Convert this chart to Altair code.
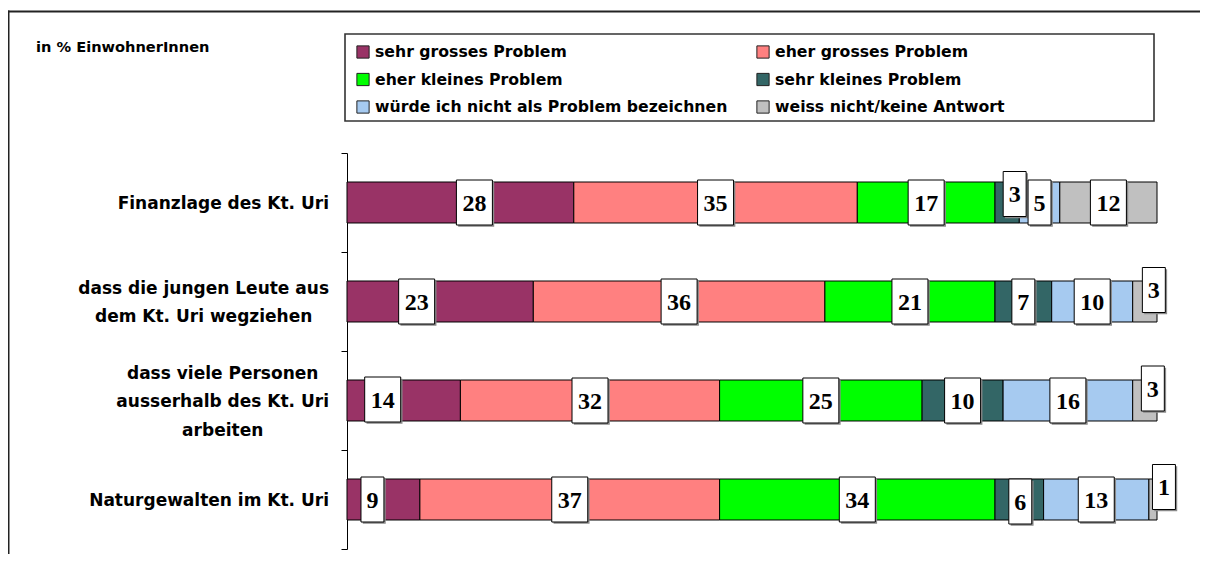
import altair as alt
import pandas as pd

# ---------------- data ----------------
categories = [
    "Finanzlage des Kt. Uri",
    "dass die jungen Leute aus\ndem Kt. Uri wegziehen",
    "dass viele Personen\nausserhalb des Kt. Uri\narbeiten",
    "Naturgewalten im Kt. Uri",
]
series = [
    "sehr grosses Problem",
    "eher grosses Problem",
    "eher kleines Problem",
    "sehr kleines Problem",
    "würde ich nicht als Problem bezeichnen",
    "weiss nicht/keine Antwort",
]
colors = ["#993366", "#FF8080", "#00FF00", "#336666", "#A6CAF0", "#C0C0C0"]

sehr_gross = [28, 23, 14, 9]
eher_gross = [35, 36, 32, 37]
eher_klein = [17, 21, 25, 34]
sehr_klein = [3, 7, 10, 6]
kein_problem = [5, 10, 16, 13]
weiss_nicht = [12, 3, 3, 1]
values = [sehr_gross, eher_gross, eher_klein, sehr_klein, kein_problem, weiss_nicht]

note = "in % EinwohnerInnen"

# ---------------- layout / style ----------------
W, H = 810, 396
PX_X = W / 100.0          # pixels per percent
PX_Y = H / 4.0            # pixels per category band
BAR_HALF = 0.207          # half bar thickness (band units)

# label nudges (pixels) as placed in the original: (row, series index) -> (dx, dy)
label_nudge = {
    (0, 0): (14, 0), (1, 0): (-23.5, 0), (2, 0): (-21, -1), (3, 0): (-11, 0),
    (0, 3): (7.5, -8.5), (1, 5): (9, -11.5), (2, 5): (8, -12), (3, 5): (11, -12.5),
    (3, 3): (1, 2),
}

BOX2 = "M-0.8,-1H0.8V1H-0.8Z"
BOX1 = "M-0.51,-1H0.51V1H-0.51Z"
SH2 = "M-0.72,-0.92H0.88V1.08H-0.72Z"
SH1 = "M-0.43,-0.92H0.59V1.08H-0.43Z"

rows = []
for r, cat in enumerate(categories):
    acc = 0
    for s, name in enumerate(series):
        v = values[s][r]
        dx, dy = label_nudge.get((r, s), (0, 0))
        rows.append(dict(
            row=r, series=name, value=v, start=acc, end=acc + v,
            mid=acc + v / 2 + dx / PX_X,
            ymid=r + 0.5 + dy / PX_Y,
            y0=r + 0.5 - BAR_HALF, y1=r + 0.5 + BAR_HALF,
            box=BOX2 if v >= 10 else BOX1,
            shadow=SH2 if v >= 10 else SH1,
            label=str(v),
        ))
        acc += v
df = pd.DataFrame(rows)

# approximate DejaVu Sans Bold advance widths (per 1000 em) for centring labels
cw = {"a": 675, "b": 716, "c": 593, "d": 716, "e": 678, "f": 435, "g": 716, "h": 712,
      "i": 343, "j": 343, "k": 665, "l": 343, "m": 1042, "n": 712, "o": 687, "p": 716,
      "r": 493, "s": 595, "t": 478, "u": 712, "v": 652, "w": 924, "z": 582, "ü": 712,
      " ": 348, ".": 380, "K": 775, "U": 812, "F": 683, "N": 837, "L": 637, "P": 733}
YL_SIZE = 17
YL_GAP = 18
YL_LH = 28.5


def text_width(t):
    return max(sum(cw.get(c, 650) for c in line) for line in t.split("\n")) * YL_SIZE / 1000


ylab = pd.DataFrame({
    "cat": categories,
    "lx": [-(YL_GAP + text_width(c) / 2) / PX_X for c in categories],
    "yc": [i + 0.5 - (c.count("\n") * YL_LH / 2 - 1.5) / PX_Y for i, c in enumerate(categories)],
})

leg = pd.DataFrame({
    "name": series,
    "hex": colors,
    "sx": [(16 + (i % 2) * 400) / PX_X for i in range(len(series))],
    "tx": [(28 + (i % 2) * 400) / PX_X for i in range(len(series))],
    "ly": [(-101 + (i // 2) * 27.5) / PX_Y for i in range(len(series))],
})

one = pd.DataFrame({"a": [0]})

xscale = alt.Scale(domain=[0, 100], nice=False, zero=False)
yscale = alt.Scale(domain=[0, 4], nice=False, zero=False, reverse=True)
yaxis = alt.Axis(values=[0, 1, 2, 3, 4], labels=False, title=None, grid=False,
                 tickSize=6, tickColor="black", domainColor="black",
                 domainWidth=1, tickWidth=1)

frame_top = alt.Chart(one).mark_rule(stroke="#222222", strokeWidth=2).encode(
    x=alt.value(-339.5), x2=alt.value(870), y=alt.value(-141.5))
frame_left = alt.Chart(one).mark_rule(stroke="#222222", strokeWidth=2).encode(
    x=alt.value(-338.5), y=alt.value(-142.5), y2=alt.value(420))

legbox = alt.Chart(one).mark_rect(fill="white", stroke="#333333", strokeWidth=1.6).encode(
    x=alt.value(-2), x2=alt.value(807), y=alt.value(-119), y2=alt.value(-32))

leg_sym = alt.Chart(leg).mark_point(shape="square", size=150, filled=True, stroke="#222222",
                                    strokeWidth=1, opacity=1).encode(
    x=alt.X("sx:Q", scale=xscale, axis=None),
    y=alt.Y("ly:Q", scale=yscale, axis=yaxis),
    fill=alt.Fill("hex:N", scale=None))

leg_txt = alt.Chart(leg).mark_text(align="left", baseline="middle", font="DejaVu Sans",
                                   fontWeight="bold", fontSize=15.7, color="black").encode(
    x=alt.X("tx:Q", scale=xscale, axis=None),
    y=alt.Y("ly:Q", scale=yscale, axis=yaxis),
    text="name:N")

note_txt = alt.Chart(one).mark_text(align="left", baseline="middle", font="DejaVu Sans",
                                    fontWeight="bold", fontSize=14.6, color="black").encode(
    x=alt.value(-311), y=alt.value(-105), text=alt.value(note))

bars = alt.Chart(df).mark_rect(stroke="black", strokeWidth=1).encode(
    x=alt.X("start:Q", scale=xscale, axis=None), x2="end:Q",
    y=alt.Y("y0:Q", scale=yscale, axis=yaxis), y2="y1:Q",
    color=alt.Color("series:N", scale=alt.Scale(domain=series, range=colors), legend=None))

shadows = alt.Chart(df).mark_point(filled=True, fill="#8a8a8a", strokeWidth=0, opacity=1,
                                   size=2025).encode(
    x=alt.X("mid:Q", scale=xscale, axis=None),
    y=alt.Y("ymid:Q", scale=yscale, axis=yaxis),
    shape=alt.Shape("shadow:N", scale=None))

boxes = alt.Chart(df).mark_point(filled=True, fill="white", stroke="black", strokeWidth=1,
                                 opacity=1, fillOpacity=1, strokeOpacity=1, size=2025).encode(
    x=alt.X("mid:Q", scale=xscale, axis=None),
    y=alt.Y("ymid:Q", scale=yscale, axis=yaxis),
    shape=alt.Shape("box:N", scale=None))

labels = alt.Chart(df).mark_text(font="Liberation Serif", fontWeight="bold", fontSize=24,
                                 baseline="middle", align="center", color="black", dy=1).encode(
    x=alt.X("mid:Q", scale=xscale, axis=None),
    y=alt.Y("ymid:Q", scale=yscale, axis=yaxis),
    text="label:N")

ylabels = alt.Chart(ylab).mark_text(lineBreak="\n", font="DejaVu Sans", fontWeight="bold",
                                    fontSize=YL_SIZE, lineHeight=YL_LH, align="center",
                                    baseline="middle", color="black").encode(
    x=alt.X("lx:Q", scale=xscale, axis=None),
    y=alt.Y("yc:Q", scale=yscale, axis=yaxis),
    text="cat:N")

chart = alt.layer(frame_top, frame_left, legbox, leg_sym, leg_txt, note_txt, bars, shadows,
                  boxes, labels, ylabels).properties(
    width=W, height=H,
    background="white",
    autosize=alt.AutoSizeParams(type="none"),
    padding={"left": 339, "top": 145, "right": 43, "bottom": 5},
).configure_view(stroke=None)

chart.save("out.html", embed_options={"renderer": "svg", "actions": False})
